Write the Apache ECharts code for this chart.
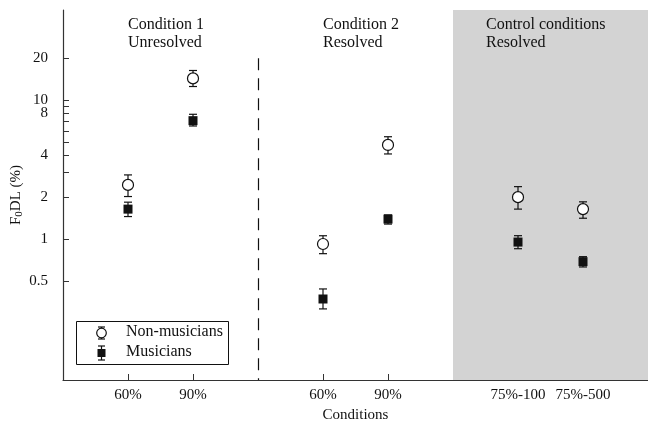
<!DOCTYPE html>
<html>
<head>
<meta charset="utf-8">
<script src="https://cdn.jsdelivr.net/npm/echarts@6/dist/echarts.min.js"></script>
<style>html,body{margin:0;padding:0;background:#fff}#c{width:648px;height:421px}</style>
</head>
<body>
<div id="c"></div>
<script>
// ---- data ----
var categories = ['60%', '90%', '60%', '90%', '75%-100', '75%-500'];
var slots = [1, 2, 4, 5, 7, 8];            // positions on the condition axis (gaps between groups)
var nonMusicians = [2.45, 14.3, 0.92, 4.75, 2.0, 1.64];
var nonMusiciansLow = [2.02, 12.5, 0.784, 4.09, 1.64, 1.41];
var nonMusiciansHigh = [2.89, 16.3, 1.055, 5.44, 2.38, 1.85];
var musicians = [1.64, 7.1, 0.37, 1.39, 0.95, 0.687];
var musiciansLow = [1.45, 6.5, 0.314, 1.28, 0.851, 0.629];
var musiciansHigh = [1.84, 7.89, 0.437, 1.49, 1.056, 0.746];
var yLabelValues = [0.5, 1, 2, 4, 8, 10, 20];
var yTickValues = [0.5, 1, 2, 3, 4, 5, 6, 7, 8, 9, 10, 20];
var groupDivider = 3;
var controlRange = [6, 9];
var yMin = 0.0967, yMax = 44.4;

var FONT = '"Liberation Serif", "DejaVu Serif", serif';

function pts(vals) { return vals.map(function (v, i) { return [slots[i], v]; }); }
function errs(lo, hi) { return lo.map(function (v, i) { return [slots[i], v, hi[i]]; }); }
function labelFor(v) { var i = slots.indexOf(v); return i >= 0 ? categories[i] : ''; }

function errorBar(params, api) {
  var x = api.value(0);
  var p1 = api.coord([x, api.value(1)]);
  var p2 = api.coord([x, api.value(2)]);
  var w = 4;
  var st = { stroke: '#111', lineWidth: 1.2 };
  return {
    type: 'group',
    children: [
      { type: 'line', shape: { x1: p1[0], y1: p1[1], x2: p2[0], y2: p2[1] }, style: st },
      { type: 'line', shape: { x1: p1[0] - w, y1: p1[1], x2: p1[0] + w, y2: p1[1] }, style: st },
      { type: 'line', shape: { x1: p2[0] - w, y1: p2[1], x2: p2[0] + w, y2: p2[1] }, style: st }
    ]
  };
}

var chart = echarts.init(document.getElementById('c'));
var txt = { fontFamily: FONT, fontSize: 16, fill: '#111' };
chart.setOption({
  animation: false,
  grid: { left: 63, right: 0, top: 10, bottom: 41, containLabel: false, outerBoundsMode: 'none' },
  xAxis: {
    type: 'value', min: 0, max: 9,
    name: 'Conditions', nameLocation: 'middle', nameGap: 28,
    nameTextStyle: { fontFamily: FONT, fontSize: 15, color: '#111' },
    splitLine: { show: false },
    axisLine: { lineStyle: { color: '#333', width: 1.2 } },
    axisTick: { inside: true, length: 6, customValues: slots, lineStyle: { color: '#333' } },
    axisLabel: { customValues: slots, formatter: labelFor, margin: 8,
      fontFamily: FONT, fontSize: 15, color: '#111' }
  },
  yAxis: {
    type: 'log', min: yMin, max: yMax,
    name: '{a|F}{s|0}{a|DL (%)}', nameLocation: 'middle', nameGap: 38, nameRotate: 90,
    nameMoveOverlap: false,
    nameTextStyle: { rich: {
      a: { fontFamily: FONT, fontSize: 15, color: '#111' },
      s: { fontFamily: FONT, fontSize: 11, color: '#111', verticalAlign: 'bottom', padding: [6, 0, 0, 0] }
    } },
    splitLine: { show: false },
    axisLine: { show: true, lineStyle: { color: '#333', width: 1.2 } },
    axisTick: { inside: true, length: 6, customValues: yTickValues, lineStyle: { color: '#333' } },
    axisLabel: { customValues: yLabelValues, margin: 15,
      fontFamily: FONT, fontSize: 15, color: '#111' },
    minorTick: { show: false }
  },
  graphic: [
    { type: 'text', left: 128, top: 16, style: Object.assign({ text: 'Condition 1\nUnresolved', lineHeight: 18 }, txt), z: 10 },
    { type: 'text', left: 323, top: 16, style: Object.assign({ text: 'Condition 2\nResolved', lineHeight: 18 }, txt), z: 10 },
    { type: 'text', left: 486, top: 16, style: Object.assign({ text: 'Control conditions\nResolved', lineHeight: 18 }, txt), z: 10 },
    { type: 'rect', shape: { x: 76.5, y: 321.5, width: 152, height: 43 },
      style: { fill: '#fff', stroke: '#111', lineWidth: 1 }, z: 10 },
    { type: 'line', shape: { x1: 101.5, y1: 327, x2: 101.5, y2: 339 }, style: { stroke: '#111', lineWidth: 1.2 }, z: 11 },
    { type: 'line', shape: { x1: 98, y1: 327, x2: 105, y2: 327 }, style: { stroke: '#111', lineWidth: 1.2 }, z: 11 },
    { type: 'line', shape: { x1: 98, y1: 339, x2: 105, y2: 339 }, style: { stroke: '#111', lineWidth: 1.2 }, z: 11 },
    { type: 'circle', shape: { cx: 101.5, cy: 333, r: 4.8 }, style: { fill: '#fff', stroke: '#111', lineWidth: 1.2 }, z: 12 },
    { type: 'line', shape: { x1: 101.5, y1: 346, x2: 101.5, y2: 360 }, style: { stroke: '#111', lineWidth: 1.2 }, z: 11 },
    { type: 'line', shape: { x1: 98, y1: 346, x2: 105, y2: 346 }, style: { stroke: '#111', lineWidth: 1.2 }, z: 11 },
    { type: 'line', shape: { x1: 98, y1: 360, x2: 105, y2: 360 }, style: { stroke: '#111', lineWidth: 1.2 }, z: 11 },
    { type: 'rect', shape: { x: 97.5, y: 349, width: 8, height: 8 }, style: { fill: '#111' }, z: 12 },
    { type: 'text', left: 126, top: 324, style: Object.assign({ text: 'Non-musicians' }, txt), z: 12 },
    { type: 'text', left: 126, top: 344, style: Object.assign({ text: 'Musicians' }, txt), z: 12 }
  ],
  series: [
    {
      type: 'line', data: [], silent: true,
      markArea: { silent: true, itemStyle: { color: '#d3d3d3' },
        data: [[{ xAxis: controlRange[0], yAxis: yMin }, { xAxis: controlRange[1], yAxis: yMax }]] },
      markLine: { silent: true, symbol: 'none', label: { show: false },
        lineStyle: { color: '#111', type: [12, 8], width: 1.2 },
        data: [[{ coord: [groupDivider, 20] }, { coord: [groupDivider, yMin] }]] }
    },
    { name: 'Non-musicians err', type: 'custom', renderItem: errorBar, data: errs(nonMusiciansLow, nonMusiciansHigh), z: 3 },
    { name: 'Musicians err', type: 'custom', renderItem: errorBar, data: errs(musiciansLow, musiciansHigh), z: 3 },
    { name: 'Non-musicians', type: 'scatter', symbol: 'circle', symbolSize: 11, data: pts(nonMusicians), z: 5,
      itemStyle: { color: '#fff', borderColor: '#111', borderWidth: 1.2, opacity: 1 } },
    { name: 'Musicians', type: 'scatter', symbol: 'rect', symbolSize: 9, data: pts(musicians), z: 5,
      itemStyle: { color: '#111', opacity: 1 } }
  ]
});
</script>
</body>
</html>
